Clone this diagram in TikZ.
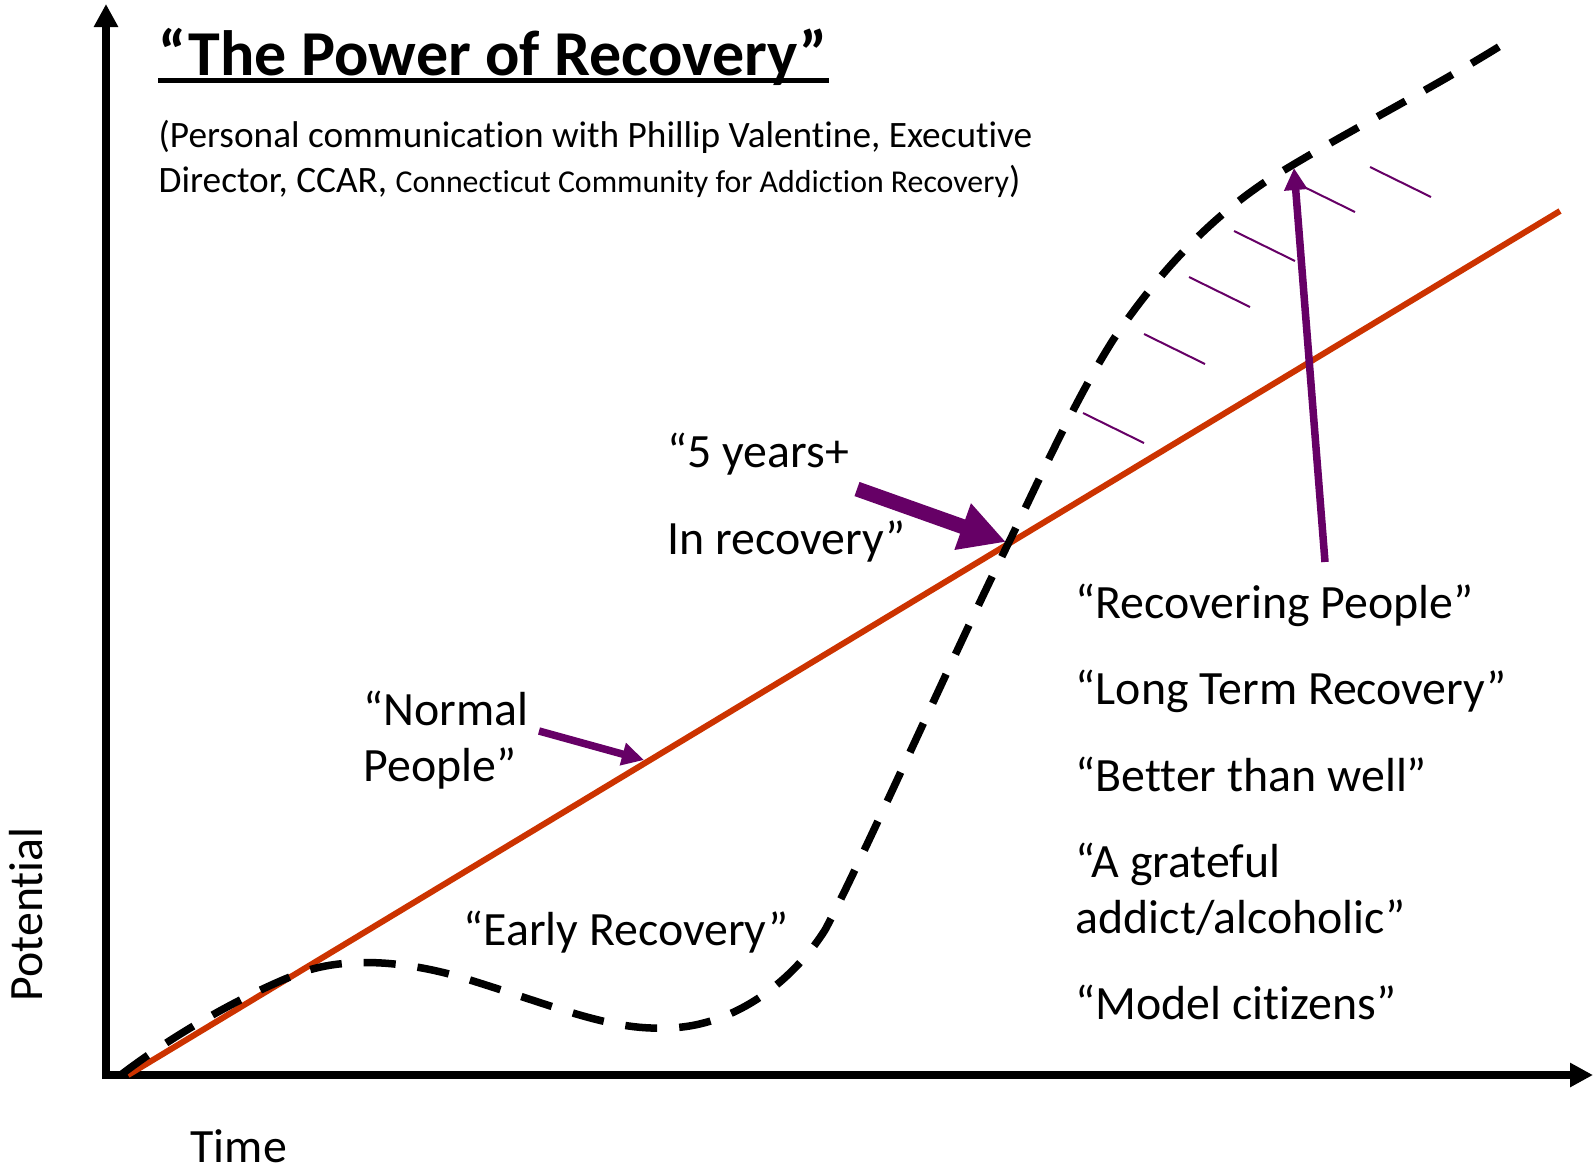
\documentclass[tikz,border=0pt]{standalone}
\usepackage{fontspec}
\setmainfont{Carlito}[Ligatures=NoCommon]
\usetikzlibrary{arrows.meta}
\definecolor{recpurple}{HTML}{660066}
\definecolor{normorange}{HTML}{CC3300}

\begin{document}
\begin{tikzpicture}[x=0.01cm, y=-0.01cm,
  every node/.style = {inner sep=0pt, anchor=base west,
    font=\fontsize{13.6pt}{16.3pt}\selectfont},
  axis/.style = {line width=0.08cm, -{Triangle[length=0.23cm, width=0.23cm]}},
  normal/.style = {normorange, line width=0.06cm},
  recovery/.style = {line width=0.075cm, dash pattern=on 0.32cm off 0.22cm},
  hatch/.style = {recpurple, line width=0.02cm},
  pointer/.style = {recpurple, line width=0.075cm,
    -{Triangle[length=0.22cm, width=0.22cm]}}]
  \useasboundingbox (0,0) rectangle (1594,1169);

  % axes
  \draw[axis] (106,1079) -- (106,4);
  \draw[axis] (102,1075) -- (1593,1075);
  \node[rotate=90] (potential) at (42,1002) {Potential};
  \node (time) at (190,1162) {Time};

  % normal people line and recovery path
  \draw[normal] (128,1075) -- (1560,211);
  \draw[recovery] (122,1074) .. controls (180,1030) and (250,992) .. (300,973)
    .. controls (340,958) and (400,958) .. (470,980)
    .. controls (560,1008) and (610,1030) .. (665,1028)
    .. controls (730,1028) and (790,985) .. (825,930)
    .. controls (860,865) and (960,640) .. (1010,540)
    .. controls (1040,478) and (1075,400) .. (1113,340)
    .. controls (1150,285) and (1200,225) .. (1268,180)
    .. controls (1340,135) and (1430,90) .. (1505,43);
  \foreach \x/\y in {1083/413, 1144/334, 1189/277, 1234/231, 1294/182, 1370/167}
    \draw[hatch] (\x,\y) -- ++(61,30);

  % title
  \node[font=\bfseries\fontsize{18.2pt}{22pt}\selectfont] (title) at (158,75)
    {“The Power of Recovery”};
  \draw[line width=0.05cm] ([yshift=-0.055cm]title.base west)
    -- ([yshift=-0.055cm]title.base east);
  \node[font=\fontsize{10.6pt}{12.7pt}\selectfont] (source1) at (158,147)
    {(Personal communication with Phillip Valentine, Executive};
  \node[font=\fontsize{10.6pt}{12.7pt}\selectfont] (source2) at (158,192)
    {Director, CCAR, {\fontsize{9.05pt}{10.9pt}\selectfont Connecticut Community for Addiction Recovery})};

  % labels
  \node (five1) at (667,467) {“5 years+};
  \node (five2) at (667,554) {In recovery”};
  \node (normal1) at (363,725) {“Normal};
  \node (normal2) at (363,781) {People”};
  \node (early) at (463,945) {“Early Recovery”};
  \node (rec1) at (1075,618) {“Recovering People”};
  \node (rec2) at (1075,704) {“Long Term Recovery”};
  \node (rec3) at (1075,791) {“Better than well”};
  \node (rec4) at (1075,877) {“A grateful};
  \node (rec5) at (1075,933) {addict/alcoholic”};
  \node (rec6) at (1075,1019) {“Model citizens”};

  % pointers
  \coordinate (fivetail) at (857,489);
  \coordinate (fivetip) at (1006,542);
  \coordinate (normaltail) at (539,731);
  \coordinate (normaltip) at (644,760);
  \coordinate (uptail) at (1325,562);
  \coordinate (uptip) at (1294,168);
  \draw[recpurple, line width=0.15cm, -{Triangle[length=0.46cm, width=0.46cm]}]
    (fivetail) -- (fivetip);
  \draw[pointer] (normaltail) -- (normaltip);
  \draw[pointer] (uptail) -- (uptip);
\end{tikzpicture}
\end{document}
